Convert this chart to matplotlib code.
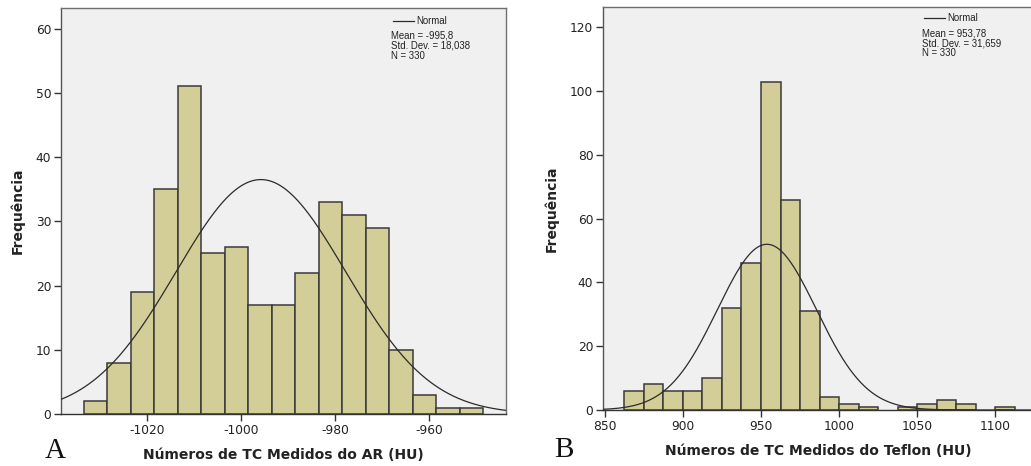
import numpy as np
import matplotlib
matplotlib.use("Agg")
import matplotlib.pyplot as plt

plt.rcParams["axes.unicode_minus"] = False

# ---------------- data ----------------
# Panel A: CT numbers of air (HU)
a_first_edge = -1033.5
a_bin_width = 5.0
a_counts = [2, 8, 19, 35, 51, 25, 26, 17, 17, 22, 33, 31, 29, 10, 3, 1, 1]
a_mean, a_std, a_n = -995.8, 18.038, 330
a_ticks = [-1020, -1000, -980, -960]
a_yticks = [0, 10, 20, 30, 40, 50, 60]
a_stats = ["Mean = -995,8", "Std. Dev. = 18,038", "N = 330"]
a_xlabel = "Números de TC Medidos do AR (HU)"

# Panel B: CT numbers of Teflon (HU)
b_first_edge = 862.5
b_bin_width = 12.5
b_counts = [6, 8, 6, 6, 10, 32, 46, 103, 66, 31, 4, 2, 1, 0, 1, 2, 3, 2, 0, 1]
b_mean, b_std, b_n = 953.78, 31.659, 330
b_ticks = [850, 900, 950, 1000, 1050, 1100]
b_yticks = [0, 20, 40, 60, 80, 100, 120]
b_stats = ["Mean = 953,78", "Std. Dev. = 31,659", "N = 330"]
b_xlabel = "Números de TC Medidos do Teflon (HU)"

ylabel = "Frequência"

# ---------------- style ----------------
BG = "#F0F0F0"
BAR = "#D3CE97"
EDGE = "#3A3A3A"
FRAME = "#6E6E6E"
TXT = "#222222"

W, H = 1031, 466
fig = plt.figure(figsize=(W / 100, H / 100), dpi=100)


def px_axes(l, r, t, b):
    return fig.add_axes([l / W, 1 - b / H, (r - l) / W, (b - t) / H])


def draw(ax, first_edge, bw, counts, mean, std, n, xlim, ylim, xticks, yticks,
         stats, xlabel, leg_x, leg_y, hide_right=False):
    ax.set_facecolor(BG)
    counts = np.asarray(counts, dtype=float)
    lefts = first_edge + bw * np.arange(len(counts))
    m = counts > 0
    ax.bar(lefts[m], counts[m], width=bw, align="edge", color=BAR,
           edgecolor=EDGE, linewidth=1.1, zorder=2)
    xs = np.linspace(xlim[0], xlim[1], 600)
    ys = n * bw / (std * np.sqrt(2 * np.pi)) * np.exp(-0.5 * ((xs - mean) / std) ** 2)
    ax.plot(xs, ys, color="#2b2b2b", linewidth=0.9, zorder=3)
    ax.set_xlim(*xlim)
    ax.set_ylim(*ylim)
    ax.set_xticks(xticks)
    ax.set_yticks(yticks)
    ax.tick_params(axis="both", direction="out", length=5, width=1.0,
                   color="#333333", labelcolor=TXT, labelsize=8.8, pad=2)
    for s in ax.spines.values():
        s.set_color(FRAME)
        s.set_linewidth(1.0)
    ax.spines["bottom"].set_color("#333333")
    ax.spines["left"].set_color("#555555")
    if hide_right:
        ax.spines["right"].set_visible(False)
    ax.set_xlabel(xlabel, fontsize=10, fontweight="bold", color=TXT, labelpad=8)
    ax.set_ylabel(ylabel, fontsize=10, fontweight="bold", color=TXT, labelpad=8)
    # legend + stats
    lx0, lx1, ltx = leg_x
    ax.plot([lx0, lx1], [leg_y[0], leg_y[0]], transform=ax.transAxes,
            color="#2b2b2b", linewidth=0.9, clip_on=False)
    ax.text(ltx, leg_y[0], "Normal", transform=ax.transAxes, fontsize=6.9,
            family="Liberation Sans", va="center", ha="left", color=TXT)
    for s, yy in zip(stats, leg_y[1:]):
        ax.text(lx0 - 0.004, yy, s, transform=ax.transAxes, fontsize=6.9,
                family="Liberation Sans", va="center", ha="left", color=TXT)


# Panel A
axA = px_axes(61, 506, 8, 414)
a_h = 406.0
draw(axA, a_first_edge, a_bin_width, a_counts, a_mean, a_std, a_n,
     (-1038.3, -943.7), (0, 63.2), a_ticks, a_yticks, a_stats, a_xlabel,
     ((393 - 61) / 445, (414 - 61) / 445, (416 - 61) / 445),
     [(414 - y) / a_h for y in (21, 36, 46, 56)])

# Panel B
axB = px_axes(603, 1033, 7, 410)
b_h = 403.0
draw(axB, b_first_edge, b_bin_width, b_counts, b_mean, b_std, b_n,
     (848.9, 1124.0), (0, 126.4), b_ticks, b_yticks, b_stats, b_xlabel,
     ((924 - 603) / 430, (945 - 603) / 430, (947 - 603) / 430),
     [(410 - y) / b_h for y in (18, 33, 43, 53)], hide_right=True)

fig.text(55 / W, 1 - 451 / H, "A", family="Liberation Serif", fontsize=21,
         ha="center", va="center", color="#111111")
fig.text(564 / W, 1 - 450 / H, "B", family="Liberation Serif", fontsize=21,
         ha="center", va="center", color="#111111")

fig.savefig("out.png", dpi=100)
